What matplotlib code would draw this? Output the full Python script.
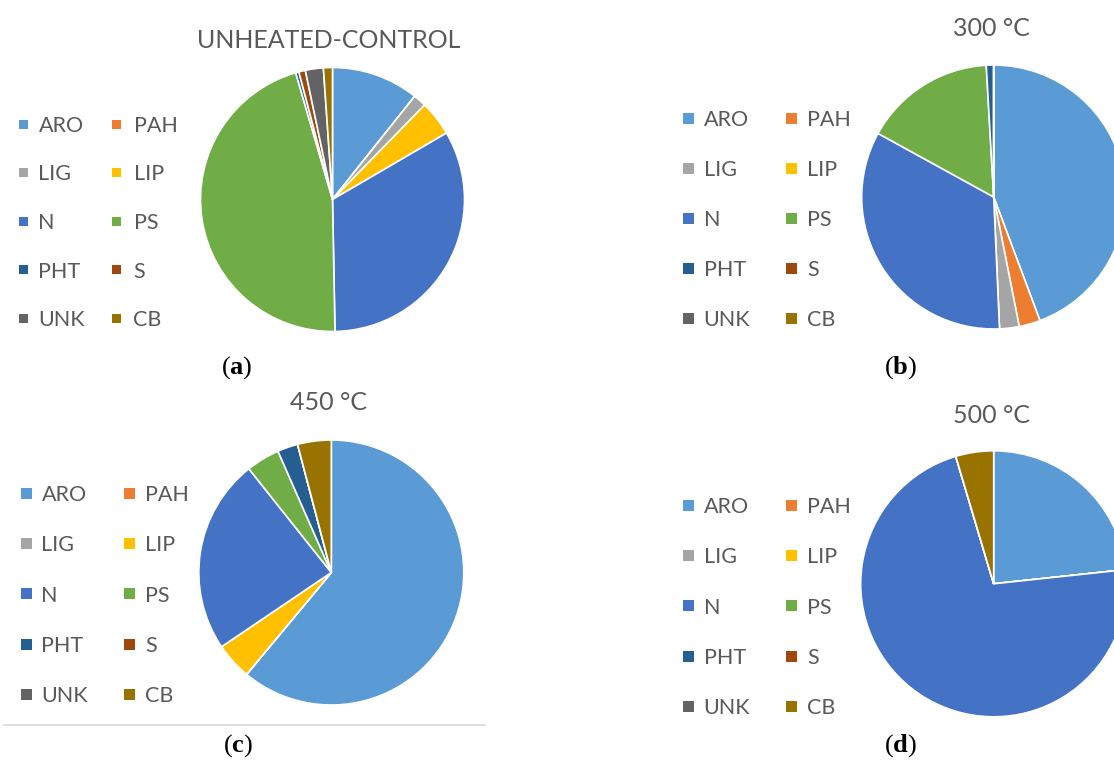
import matplotlib
matplotlib.use("Agg")
import matplotlib.pyplot as plt
from matplotlib.patches import Rectangle
from matplotlib.lines import Line2D

plt.rcParams["font.family"] = ["Lato", "DejaVu Sans"]
plt.rcParams["mathtext.fontset"] = "custom"
plt.rcParams["mathtext.rm"] = "Liberation Serif"
plt.rcParams["mathtext.bf"] = "Liberation Serif:bold"

# compound classes (share of total area, %)
categories = ["ARO", "PAH", "LIG", "LIP", "N", "PS", "PHT", "S", "UNK", "CB"]
colors = ["#5B9BD5", "#ED7D31", "#A5A5A5", "#FFC000", "#4472C4",
          "#70AD47", "#255E91", "#9E480E", "#636363", "#997300"]

unheated = [10.7, 0.0, 1.6, 4.3, 33.1, 45.8, 0.4, 0.8, 2.2, 1.1]
t300 = [44.3, 2.6, 2.4, 0.0, 33.7, 16.1, 0.9, 0.0, 0.0, 0.0]
t450 = [61.1, 0.0, 0.0, 4.5, 23.8, 4.1, 2.5, 0.0, 0.0, 4.1]
t500 = [23.3, 0.0, 0.0, 0.0, 72.1, 0.0, 0.0, 0.0, 0.0, 4.6]

titles = ["UNHEATED-CONTROL", "300 °C", "450 °C", "500 °C"]
letters = ["a", "b", "c", "d"]

W, H = 1114, 762
fig = plt.figure(figsize=(W / 100, H / 100), dpi=100)
fig.patch.set_facecolor("white")

TXT = "#595959"


def fx(x):
    return x / W


def fy(y):
    return 1 - y / H


# per panel: pie centre + radius, title baseline, legend layout, label position
panels = [
    dict(data=unheated, c=(332.5, 199.5), r=132, title=(329, 48.5),
         leg=dict(x1=18.5, t1=38.5, x2=112, t2=133.5, y0=124, dy=48.6, sq=9),
         lab=(237, 368)),
    dict(data=t300, c=(993.7, 197), r=132, title=(991.5, 36.5),
         leg=dict(x1=683, t1=703.5, x2=786, t2=807, y0=118.5, dy=50, sq=11),
         lab=(901, 368)),
    dict(data=t450, c=(331.3, 572.5), r=132.5, title=(329, 410),
         leg=dict(x1=21, t1=41.5, x2=124, t2=145, y0=493.5, dy=50.2, sq=11),
         lab=(238, 746)),
    dict(data=t500, c=(993.7, 583.8), r=133, title=(991.5, 423),
         leg=dict(x1=683, t1=703.5, x2=786, t2=807, y0=505.5, dy=50.2, sq=11),
         lab=(901, 746)),
]

for p, title, letter in zip(panels, titles, letters):
    cx, cy = p["c"]
    r = p["r"]
    ax = fig.add_axes([fx(cx - r), fy(cy + r), 2 * r / W, 2 * r / H])
    ax.pie(p["data"], colors=colors, startangle=90, counterclock=False,
           radius=1, wedgeprops=dict(edgecolor="white", linewidth=1.2))
    ax.set_xlim(-1, 1)
    ax.set_ylim(-1, 1)
    ax.set_aspect("equal")
    ax.axis("off")

    tx, ty = p["title"]
    fig.text(fx(tx), fy(ty), title, ha="center", va="baseline",
             fontsize=18, color=TXT)

    # two-column legend, filled row by row
    lg = p["leg"]
    for i, (name, col) in enumerate(zip(categories, colors)):
        row, colnum = divmod(i, 2)
        y = lg["y0"] + row * lg["dy"]
        mx = lg["x1"] if colnum == 0 else lg["x2"]
        tx0 = lg["t1"] if colnum == 0 else lg["t2"]
        s = lg["sq"]
        fig.add_artist(Rectangle((fx(mx), fy(y + s / 2)), s / W, s / H,
                                 transform=fig.transFigure,
                                 facecolor=col, edgecolor="none"))
        fig.text(fx(tx0), fy(y + 7.7), name, ha="left", va="baseline",
                 fontsize=15.5, color=TXT)

    lx, ly = p["lab"]
    fig.text(fx(lx), fy(ly), r"($\mathbf{%s}$)" % letter, ha="center",
             va="center", fontsize=19, family="Liberation Serif",
             color="black")

# thin rule under the lower-left panel
fig.add_artist(Line2D([fx(4), fx(485)], [fy(725), fy(725)],
                      transform=fig.transFigure, color="#d9d9d9", lw=1.2))

fig.savefig("out.png", dpi=100, facecolor="white")
